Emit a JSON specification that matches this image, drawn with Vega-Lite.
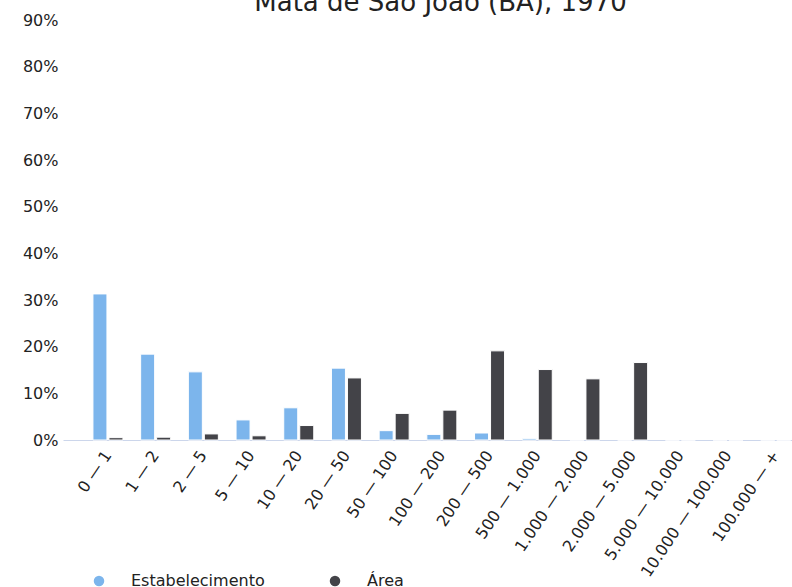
{
  "$schema": "https://vega.github.io/schema/vega-lite/v6.json",
  "autosize": {"type": "none"},
  "width": 729,
  "height": 420,
  "padding": {"left": 63, "top": 20, "right": 0, "bottom": 147},
  "background": "#ffffff",
  "title": {
    "text": "Mata de São João (BA), 1970",
    "font": "DejaVu Sans",
    "fontSize": 26,
    "fontWeight": "normal",
    "color": "#222222",
    "anchor": "middle",
    "dx": 13,
    "baseline": "alphabetic",
    "offset": -25
  },
  "config": {
    "view": {"stroke": null},
    "font": "DejaVu Sans"
  },
  "data": {
    "values": [
      {"classe": "0 — 1", "serie": "Estabelecimento", "valor": 31.3},
      {"classe": "0 — 1", "serie": "Área", "valor": 0.5},
      {"classe": "1 — 2", "serie": "Estabelecimento", "valor": 18.4},
      {"classe": "1 — 2", "serie": "Área", "valor": 0.6},
      {"classe": "2 — 5", "serie": "Estabelecimento", "valor": 14.6},
      {"classe": "2 — 5", "serie": "Área", "valor": 1.3},
      {"classe": "5 — 10", "serie": "Estabelecimento", "valor": 4.3},
      {"classe": "5 — 10", "serie": "Área", "valor": 0.9},
      {"classe": "10 — 20", "serie": "Estabelecimento", "valor": 6.9},
      {"classe": "10 — 20", "serie": "Área", "valor": 3.1},
      {"classe": "20 — 50", "serie": "Estabelecimento", "valor": 15.4},
      {"classe": "20 — 50", "serie": "Área", "valor": 13.3},
      {"classe": "50 — 100", "serie": "Estabelecimento", "valor": 2.0},
      {"classe": "50 — 100", "serie": "Área", "valor": 5.7},
      {"classe": "100 — 200", "serie": "Estabelecimento", "valor": 1.2},
      {"classe": "100 — 200", "serie": "Área", "valor": 6.4},
      {"classe": "200 — 500", "serie": "Estabelecimento", "valor": 1.5},
      {"classe": "200 — 500", "serie": "Área", "valor": 19.1},
      {"classe": "500 — 1.000", "serie": "Estabelecimento", "valor": 0.35},
      {"classe": "500 — 1.000", "serie": "Área", "valor": 15.1},
      {"classe": "1.000 — 2.000", "serie": "Estabelecimento", "valor": 0},
      {"classe": "1.000 — 2.000", "serie": "Área", "valor": 13.1},
      {"classe": "2.000 — 5.000", "serie": "Estabelecimento", "valor": 0},
      {"classe": "2.000 — 5.000", "serie": "Área", "valor": 16.6},
      {"classe": "5.000 — 10.000", "serie": "Estabelecimento", "valor": 0},
      {"classe": "5.000 — 10.000", "serie": "Área", "valor": 0},
      {"classe": "10.000 — 100.000", "serie": "Estabelecimento", "valor": 0},
      {"classe": "10.000 — 100.000", "serie": "Área", "valor": 0},
      {"classe": "100.000 — +", "serie": "Estabelecimento", "valor": 0},
      {"classe": "100.000 — +", "serie": "Área", "valor": 0}
    ]
  },
  "mark": {"type": "bar", "stroke": "#ffffff", "strokeWidth": 1},
  "encoding": {
    "x": {
      "field": "classe",
      "type": "nominal",
      "sort": null,
      "scale": {"paddingInner": 0.371, "paddingOuter": 0.327, "align": 0.96},
      "axis": {
        "title": null,
        "labelAngle": -56,
        "labelAlign": "right",
        "labelBaseline": "middle",
        "labelFontSize": 16,
        "labelColor": "#222222",
        "labelFont": "DejaVu Sans",
        "domainColor": "#ccd6eb",
        "domainWidth": 1,
        "ticks": false,
        "labelPadding": 12
      }
    },
    "xOffset": {
      "field": "serie",
      "type": "nominal",
      "sort": ["Estabelecimento", "Área"],
      "scale": {"paddingInner": 0.125, "paddingOuter": 0}
    },
    "y": {
      "field": "valor",
      "type": "quantitative",
      "scale": {"domain": [0, 90], "nice": false},
      "axis": {
        "title": null,
        "values": [0, 10, 20, 30, 40, 50, 60, 70, 80, 90],
        "labelExpr": "datum.value + '%'",
        "labelFontSize": 16,
        "labelColor": "#222222",
        "labelFont": "DejaVu Sans",
        "domain": false,
        "ticks": false,
        "grid": false,
        "labelPadding": 5
      }
    },
    "color": {
      "field": "serie",
      "type": "nominal",
      "sort": ["Estabelecimento", "Área"],
      "scale": {"domain": ["Estabelecimento", "Área"], "range": ["#7cb5ec", "#434348"]},
      "legend": {
        "title": null,
        "orient": "none",
        "direction": "horizontal",
        "legendX": 28,
        "legendY": 553,
        "symbolType": "circle",
        "symbolSize": 110,
        "symbolStrokeWidth": 0,
        "labelFontSize": 16,
        "labelColor": "#222222",
        "labelFont": "DejaVu Sans",
        "labelOffset": 24,
        "columnPadding": 62,
        "padding": 0
      }
    }
  }
}
